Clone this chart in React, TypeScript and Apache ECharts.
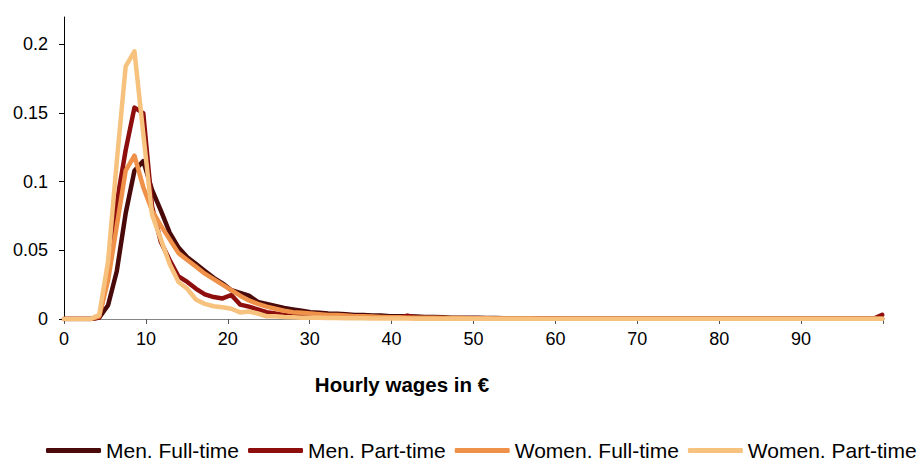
import React, { useEffect, useRef } from "react";
import * as echarts from "echarts";

// Wage grid (€) at which the density lines are drawn
const wages = [
  0, 1.08, 2.15, 3.23, 4.3, 5.38, 6.45, 7.53, 8.6, 9.68,
  10.75, 11.83, 12.9, 13.98, 15.05, 16.13, 17.2, 18.28, 19.35, 20.43,
  21.5, 22.58, 23.65, 24.73, 25.8, 26.88, 27.95, 29.03, 30.1, 31.18,
  32.25, 33.33, 34.4, 35.48, 36.55, 37.63, 38.7, 39.78, 40.85, 41.93,
  43, 44.08, 45.15, 46.23, 47.3, 48.38, 49.45, 50.53, 51.6, 52.68,
  53.75, 54.83, 55.9, 56.98, 58.05, 59.13, 60.2, 61.28, 62.35, 63.43,
  64.5, 65.58, 66.65, 67.73, 68.8, 69.88, 70.95, 72.03, 73.1, 74.18,
  75.25, 76.33, 77.4, 78.48, 79.55, 80.63, 81.7, 82.78, 83.85, 84.93,
  86, 87.08, 88.15, 89.23, 90.3, 91.38, 92.45, 93.53, 94.6, 95.68,
  96.75, 97.83, 98.9, 99.9,
];

const menFullTime = [
  0, 0, 0, 0, 0.001, 0.01, 0.035, 0.077, 0.108, 0.115,
  0.094, 0.079, 0.063, 0.052, 0.045, 0.04, 0.035, 0.03, 0.026, 0.021,
  0.019, 0.017, 0.0125, 0.011, 0.0095, 0.008, 0.007, 0.006, 0.005, 0.0045,
  0.004, 0.0038, 0.0035, 0.003, 0.003, 0.0025, 0.0025, 0.002, 0.002, 0.002,
  0.0018, 0.0015, 0.0015, 0.0012, 0.001, 0.001, 0.001, 0.001, 0.0008, 0.0008,
  0.0006, 0.0005, 0.0005, 0.0004, 0.0004, 0.0003, 0.0003, 0.0002, 0.0002, 0.0002,
  0.0001, 0.0001, 0.0001, 0.0001, 0.0001, 0.0001, 0.0001, 0.0001, 0.0001, 0.0001,
  0.0001, 0.0001, 0.0001, 0.0001, 0.0001, 0.0001, 0.0001, 0.0001, 0.0001, 0.0001,
  0.0001, 0.0001, 0.0001, 0.0001, 0.0001, 0.0001, 0.0001, 0.0001, 0.0001, 0.0001,
  0.0001, 0.0001, 0.0001, 0.0001,
];

const menPartTime = [
  0, 0, 0, 0, 0.001, 0.033, 0.085, 0.123, 0.154, 0.15,
  0.082, 0.056, 0.043, 0.031, 0.027, 0.022, 0.018, 0.016, 0.015, 0.0175,
  0.0105, 0.009, 0.007, 0.005, 0.004, 0.003, 0.002, 0.002, 0.0015, 0.001,
  0.001, 0.001, 0.001, 0.001, 0.001, 0.001, 0.001, 0.001, 0.001, 0.0025,
  0.001, 0.0008, 0.0008, 0.0007, 0.0006, 0.0006, 0.0005, 0.0005, 0.0005, 0.0004,
  0.0004, 0.0003, 0.0003, 0.0003, 0.0003, 0.0003, 0.0003, 0.0003, 0.0003, 0.0003,
  0.0003, 0.0003, 0.0003, 0.0003, 0.0003, 0.0003, 0.0003, 0.0003, 0.0003, 0.0003,
  0.0003, 0.0003, 0.0003, 0.0003, 0.0003, 0.0003, 0.0003, 0.0003, 0.0003, 0.0003,
  0.0003, 0.0003, 0.0003, 0.0003, 0.0003, 0.0003, 0.0003, 0.0003, 0.0003, 0.0003,
  0.0003, 0.0003, 0.0003, 0.003,
];

const womenFullTime = [
  0, 0, 0, 0, 0.002, 0.028, 0.068, 0.108, 0.119, 0.096,
  0.079, 0.068, 0.058, 0.048, 0.043, 0.038, 0.033, 0.029, 0.025, 0.021,
  0.017, 0.0135, 0.011, 0.009, 0.0075, 0.006, 0.005, 0.0045, 0.004, 0.0035,
  0.003, 0.003, 0.0025, 0.002, 0.002, 0.0018, 0.0015, 0.0012, 0.0012, 0.001,
  0.001, 0.001, 0.001, 0.0008, 0.0008, 0.0007, 0.0006, 0.0005, 0.0005, 0.0004,
  0.0004, 0.0003, 0.0003, 0.0003, 0.0002, 0.0002, 0.0002, 0.0002, 0.0002, 0.0002,
  0.0002, 0.0002, 0.0002, 0.0002, 0.0002, 0.0002, 0.0002, 0.0002, 0.0002, 0.0002,
  0.0002, 0.0002, 0.0002, 0.0002, 0.0002, 0.0002, 0.0002, 0.0002, 0.0002, 0.0002,
  0.0002, 0.0002, 0.0002, 0.0002, 0.0002, 0.0002, 0.0002, 0.0002, 0.0002, 0.0002,
  0.0002, 0.0002, 0.0002, 0.0002,
];

const womenPartTime = [
  0, 0, 0, 0, 0.003, 0.042, 0.115, 0.184, 0.195, 0.135,
  0.076, 0.058, 0.04, 0.027, 0.022, 0.014, 0.011, 0.0093, 0.0085, 0.0075,
  0.0048, 0.0055, 0.004, 0.002, 0.002, 0.0015, 0.0012, 0.001, 0.001, 0.001,
  0.0008, 0.0008, 0.0006, 0.0005, 0.0005, 0.0004, 0.0004, 0.0003, 0.0003, 0.0003,
  0.0002, 0.0002, 0.0002, 0.0002, 0.0002, 0.0002, 0.0002, 0.0002, 0.0002, 0.0002,
  0.0001, 0.0001, 0.0001, 0.0001, 0.0001, 0.0001, 0.0001, 0.0001, 0.0001, 0.0001,
  0.0001, 0.0001, 0.0001, 0.0001, 0.0001, 0.0001, 0.0001, 0.0001, 0.0001, 0.0001,
  0.0001, 0.0001, 0.0001, 0.0001, 0.0001, 0.0001, 0.0001, 0.0001, 0.0001, 0.0001,
  0.0001, 0.0001, 0.0001, 0.0001, 0.0001, 0.0001, 0.0001, 0.0001, 0.0001, 0.0001,
  0.0001, 0.0001, 0.0001, 0.0001,
];

const seriesNames = ["Men. Full-time", "Men. Part-time", "Women. Full-time", "Women. Part-time"];
const seriesValues = [menFullTime, menPartTime, womenFullTime, womenPartTime];
const seriesColors = ["#4a0a0a", "#8e0e0e", "#ef9149", "#f6c27e"];
const yTickValues = [0, 0.05, 0.1, 0.15, 0.2];
const xTickValues = [0, 10, 20, 30, 40, 50, 60, 70, 80, 90, 100];
const xLabelValues = [0, 10, 20, 30, 40, 50, 60, 70, 80, 90];
const xAxisTitle = "Hourly wages in €";

const FONT = "'Liberation Sans', Arial, sans-serif";

export default function App() {
  const ref = useRef<HTMLDivElement>(null);

  useEffect(() => {
    if (!ref.current) return;
    const chart = echarts.init(ref.current, null, { renderer: "svg" });
    const option = {
      animation: false,
      backgroundColor: "#ffffff",
      grid: { left: 64, right: 35, top: 17, bottom: 143, containLabel: false },
      xAxis: {
        type: "value",
        min: 0,
        max: 100,
        interval: 10,
        axisLine: { show: true, lineStyle: { color: "#868686", width: 1 } },
        axisTick: { show: true, length: 5, lineStyle: { color: "#555555" }, customValues: xTickValues },
        axisLabel: {
          fontSize: 18,
          fontFamily: FONT,
          color: "#000",
          margin: 11,
          customValues: xLabelValues,
          formatter: (v: number) => (v >= 100 ? "" : String(v)),
        },
        splitLine: { show: false },
      },
      yAxis: {
        type: "value",
        min: 0,
        max: 0.22,
        interval: 0.05,
        axisLine: { show: true, lineStyle: { color: "#000", width: 1 } },
        axisTick: { show: true, length: 5, lineStyle: { color: "#000" }, customValues: yTickValues },
        axisLabel: {
          fontSize: 18,
          fontFamily: FONT,
          color: "#000",
          margin: 16,
          customValues: yTickValues,
          formatter: (v: number) => (v > 0.21 ? "" : String(Math.round(v * 100) / 100)),
        },
        splitLine: { show: false },
      },
      legend: {
        data: seriesNames,
        left: 46,
        top: 440,
        width: 900,
        icon: "roundRect",
        itemWidth: 55,
        itemHeight: 5,
        itemGap: 9,
        padding: 0,
        textStyle: { fontSize: 21, fontFamily: FONT, color: "#000" },
      },
      graphic: [
        {
          type: "text",
          x: 402,
          y: 384,
          style: {
            text: xAxisTitle,
            fontSize: 20.5,
            fontWeight: "bold",
            fontFamily: FONT,
            fill: "#000",
            align: "center",
            verticalAlign: "middle",
          },
        },
      ],
      series: seriesNames.map((name, s) => ({
        name,
        type: "line",
        data: wages.map((w, i) => [w, seriesValues[s][i]]),
        showSymbol: false,
        symbol: "none",
        smooth: false,
        color: seriesColors[s],
        lineStyle: { width: 4.5, color: seriesColors[s], join: "round", cap: "round" },
        z: 2 + s,
      })),
    };
    chart.setOption(option as any);
    return () => chart.dispose();
  }, []);

  return (
    <div
      ref={ref}
      style={{ position: "absolute", left: 0, top: 0, width: 918, height: 462, background: "#fff" }}
    />
  );
}
